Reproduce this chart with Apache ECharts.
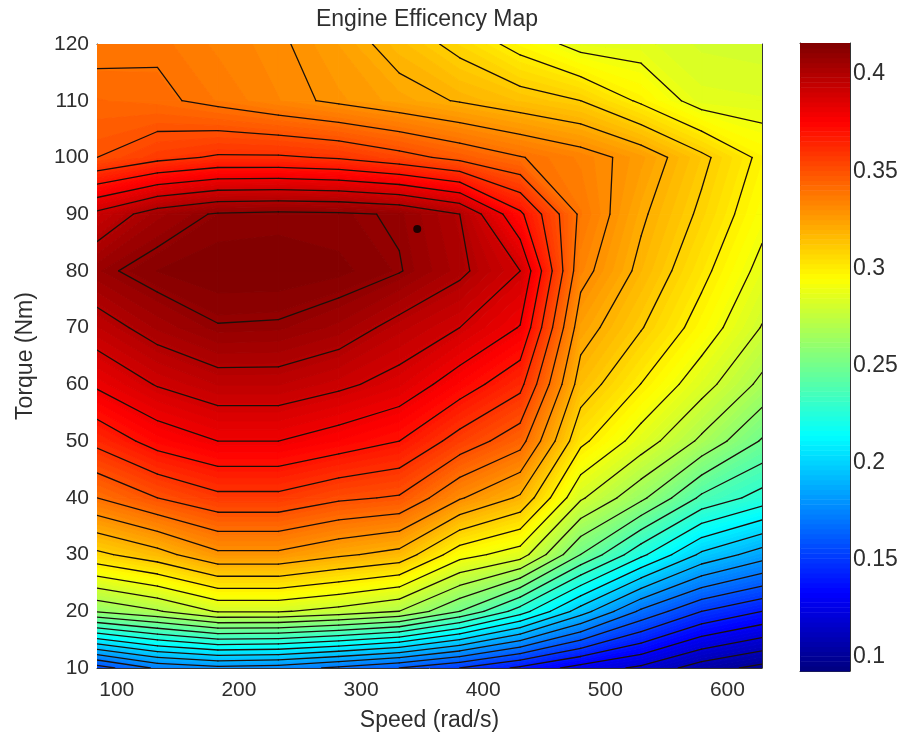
<!DOCTYPE html>
<html>
<head>
<meta charset="utf-8">
<title>Engine Efficency Map</title>
<style>html,body{margin:0;padding:0;background:#fff}#c{width:901px;height:736px;filter:blur(.5px)}</style>
<script src="https://cdn.jsdelivr.net/npm/echarts@6/dist/echarts.min.js"></script>
</head>
<body>
<div id="c"></div>
<script>
// Data
const speeds  = [83.8,133.3,182.8,232.3,281.8,331.3,380.8,430.3,479.8,529.3,578.8,628.3];
const torques = [10,20,30,40,50,60,70,80,90,100,110,120];
const effT10  = [.155,.172,.177,.175,.168,.160,.150,.138,.126,.118,.105,.097];
const effT20  = [.261,.269,.281,.281,.2765,.270,.250,.225,.195,.168,.150,.140];
const effT30  = [.3077,.3162,.328,.328,.3217,.3167,.294,.285,.250,.2225,.198,.185];
const effT40  = [.340,.350,.3575,.3575,.3517,.349,.331,.3185,.2815,.2624,.238,.226];
const effT50  = [.3628,.374,.380,.380,.3753,.370,.356,.344,.3024,.2855,.268,.249];
const effT60  = [.3816,.3907,.396,.396,.392,.3864,.375,.3629,.3153,.2998,.2842,.2675];
const effT70  = [.3955,.404,.4095,.409,.405,.3969,.390,.3795,.3244,.3106,.2958,.2795];
const effT80  = [.408,.4136,.416,.416,.4145,.4105,.402,.390,.3334,.3176,.3026,.287];
const effT90  = [.3925,.405,.411,.412,.4115,.4091,.400,.372,.338,.3215,.3082,.2932];
const effT100 = [.350,.357,.3612,.3612,.359,.3535,.347,.3405,.3345,.326,.3123,.2976];
const effT110 = [.343,.3417,.3375,.3328,.3283,.3238,.3193,.3146,.310,.2984,.2858,.285];
const effT120 = [.3377,.3388,.3345,.3313,.325,.316,.307,.2965,.2865,.2857,.2815,.2805];
const effGrid = [effT10,effT20,effT30,effT40,effT50,effT60,effT70,effT80,effT90,effT100,effT110,effT120];
const peakPoint = [346,87.4];
const contourLevels = [.10,.11,.12,.13,.14,.15,.16,.17,.18,.19,.20,.21,.22,.23,.24,.25,.26,.27,.28,.29,.30,.31,.32,.33,.34,.35,.36,.37,.38,.39,.40,.41];
const speedTicks  = [100,200,300,400,500,600];
const torqueTicks = [10,20,30,40,50,60,70,80,90,100,110,120];
const colorTicks  = [.1,.15,.2,.25,.3,.35,.4];
const colorMin = .0928, colorMax = .416, colorSteps = 128;

function jet(t){
  const c = v => Math.round(255*Math.max(0,Math.min(1,v)));
  return `rgb(${c(1.5-Math.abs(4*t-3))},${c(1.5-Math.abs(4*t-2))},${c(1.5-Math.abs(4*t-1))})`;
}
const stepSize = (colorMax-colorMin)/colorSteps;
const colorOf = i => jet((i+.5)/colorSteps);

function clip(poly,level,keepAbove){
  const out=[];
  for(let i=0;i<poly.length;i++){
    const a=poly[i], b=poly[(i+1)%poly.length];
    const ina = keepAbove ? a[2]>=level : a[2]<=level;
    const inb = keepAbove ? b[2]>=level : b[2]<=level;
    if(ina) out.push(a);
    if(ina!==inb){
      const f=(level-a[2])/(b[2]-a[2]);
      out.push([a[0]+f*(b[0]-a[0]),a[1]+f*(b[1]-a[1]),level]);
    }
  }
  return out;
}
const fills=[], segments=[];
for(let r=0;r<torques.length-1;r++){
  for(let c=0;c<speeds.length-1;c++){
    const quad=[
      [speeds[c],torques[r],effGrid[r][c]],
      [speeds[c+1],torques[r],effGrid[r][c+1]],
      [speeds[c+1],torques[r+1],effGrid[r+1][c+1]],
      [speeds[c],torques[r+1],effGrid[r+1][c]]];
    for(let i=0;i<colorSteps;i++){
      const lo = i===0 ? -1 : colorMin+i*stepSize;
      const hi = i===colorSteps-1 ? 9 : colorMin+(i+1)*stepSize;
      let p=clip(quad,lo,true);
      if(p.length) p=clip(p,hi,false);
      if(p.length>2) fills.push({pts:p,color:colorOf(i)});
    }
    for(const L of contourLevels){
      const hits=[];
      for(let k=0;k<4;k++){
        const a=quad[k], b=quad[(k+1)%4];
        if((a[2]<L)!==(b[2]<L)){
          const f=(L-a[2])/(b[2]-a[2]);
          hits.push([a[0]+f*(b[0]-a[0]),a[1]+f*(b[1]-a[1])]);
        }
      }
      for(let k=0;k+1<hits.length;k+=2) segments.push([hits[k],hits[k+1]]);
    }
  }
}
const textColor='#2e2e2e', lineColor='#333';
const font='"Liberation Sans",Arial,sans-serif';
const frameLine={show:true,onZero:false,lineStyle:{color:lineColor,width:1}};

function speedAxis(pos,labels){
  return {type:'value',gridIndex:0,position:pos,min:speeds[0],max:speeds[speeds.length-1],
    axisLine:frameLine,splitLine:{show:false},
    axisTick:{show:true,inside:true,length:6,customValues:speedTicks,lineStyle:{color:lineColor}},
    axisLabel:{show:labels,margin:12,color:textColor,fontSize:21,fontFamily:font,customValues:speedTicks},
    name:labels?'Speed (rad/s)':'',nameLocation:'middle',nameGap:41,
    nameTextStyle:{color:textColor,fontSize:23,fontFamily:font}};
}
function torqueAxis(pos,labels){
  return {type:'value',gridIndex:0,position:pos,min:10,max:120,
    axisLine:frameLine,splitLine:{show:false},
    axisTick:{show:true,inside:true,length:6,customValues:torqueTicks,lineStyle:{color:lineColor}},
    axisLabel:{show:labels,margin:8,color:textColor,fontSize:21,fontFamily:font,customValues:torqueTicks},
    name:labels?'Torque (Nm)':'',nameLocation:'middle',nameGap:60,
    nameTextStyle:{color:textColor,fontSize:23,fontFamily:font}};
}
function colorAxis(pos,labels){
  return {type:'value',gridIndex:1,position:pos,min:colorMin,max:colorMax,
    axisLine:frameLine,splitLine:{show:false},
    axisTick:{show:true,inside:true,length:5,customValues:colorTicks,lineStyle:{color:lineColor}},
    axisLabel:{show:labels,margin:3,color:textColor,fontSize:23,fontFamily:font,customValues:colorTicks,
      formatter:v=>String(+v.toFixed(2))}};
}
function frameAxis(pos){
  return {type:'value',gridIndex:1,position:pos,min:0,max:1,axisLine:frameLine,
    axisTick:{show:false},axisLabel:{show:false},splitLine:{show:false}};
}
const chart=echarts.init(document.getElementById('c'),null,{renderer:'canvas'});
chart.setOption({
  animation:false,
  backgroundColor:'#fff',
  title:{text:'Engine Efficency Map',left:422,top:3,textAlign:'center',
    textStyle:{color:textColor,fontSize:23,fontWeight:'normal',fontFamily:font}},
  grid:[{left:97,top:44,width:665,height:624,outerBoundsMode:'none'},
        {left:800,top:43,width:50,height:628,outerBoundsMode:'none'}],
  xAxis:[speedAxis('bottom',true),speedAxis('top',false),frameAxis('bottom'),frameAxis('top')],
  yAxis:[torqueAxis('left',true),torqueAxis('right',false),colorAxis('right',true),colorAxis('left',false)],
  series:[
    {type:'custom',name:'Efficiency',xAxisIndex:0,yAxisIndex:0,silent:true,progressive:0,clip:true,
      data:fills.map((f,i)=>[i]),
      renderItem(params,api){
        const f=fills[params.dataIndex];
        return {type:'polygon',shape:{points:f.pts.map(p=>api.coord([p[0],p[1]]))},
          style:{fill:f.color,stroke:f.color,lineWidth:1}};
      }},
    {type:'custom',name:'Contours',xAxisIndex:0,yAxisIndex:0,silent:true,progressive:0,clip:true,z:3,
      data:segments.map((s,i)=>[i]),
      renderItem(params,api){
        const s=segments[params.dataIndex], a=api.coord(s[0]), b=api.coord(s[1]);
        return {type:'line',shape:{x1:a[0],y1:a[1],x2:b[0],y2:b[1]},
          style:{stroke:'#1c100a',lineWidth:1.3,lineCap:'round'}};
      }},
    {type:'scatter',name:'Peak',xAxisIndex:0,yAxisIndex:0,silent:true,z:5,symbolSize:8,
      itemStyle:{color:'#000'},data:[peakPoint]},
    {type:'custom',name:'Colorbar',xAxisIndex:2,yAxisIndex:2,silent:true,progressive:0,
      data:Array.from({length:colorSteps},(_,i)=>[i]),
      renderItem(params,api){
        const i=params.dataIndex;
        const a=api.coord([0,colorMin+(i+1)*stepSize]), b=api.coord([1,colorMin+i*stepSize]);
        return {type:'rect',shape:{x:a[0],y:a[1],width:b[0]-a[0],height:b[1]-a[1]+.5},
          style:{fill:colorOf(i)}};
      }}
  ]
});
</script>
</body>
</html>
